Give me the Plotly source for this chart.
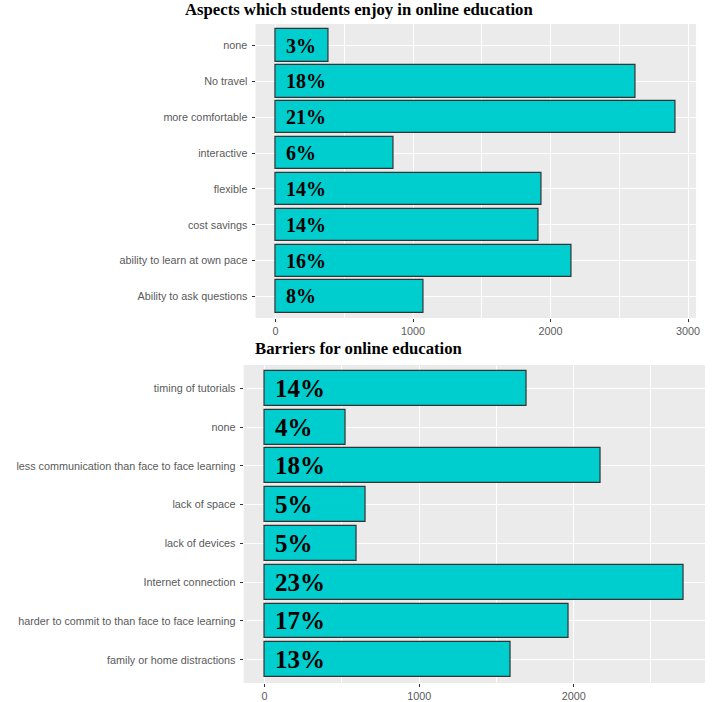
import plotly.graph_objects as go

W, H = 712, 702

# Top chart: aspects enjoyed (bottom-to-top order)
enjoy_cats = ["Ability to ask questions", "ability to learn at own pace", "cost savings",
              "flexible", "interactive", "more comfortable", "No travel", "none"]
enjoy_vals = [1077, 2153, 1912, 1936, 860, 2913, 2617, 384]
enjoy_pct = ["8%", "16%", "14%", "14%", "6%", "21%", "18%", "3%"]

# Bottom chart: barriers (bottom-to-top order)
barrier_cats = ["family or home distractions", "harder to commit to than face to face learning",
                "Internet connection", "lack of devices", "lack of space",
                "less communication than face to face learning", "none", "timing of tutorials"]
barrier_vals = [1595, 1969, 2714, 597, 653, 2175, 527, 1697]
barrier_pct = ["13%", "17%", "23%", "5%", "5%", "18%", "4%", "14%"]

x_ticks_top = [0, 1000, 2000, 3000]
x_ticks_bottom = [0, 1000, 2000]

FILL = "#00CDCD"
EDGE = "#333333"
PANEL = "#EBEBEB"
TICKGREY = "#5A5A5A"


def px_x(p):
    return p / W


def px_y(p):
    return 1 - p / H


fig = go.Figure()

fig.add_trace(go.Bar(
    y=enjoy_cats, x=enjoy_vals, orientation="h", width=0.9,
    marker=dict(color=FILL, line=dict(color=EDGE, width=1.2)),
    xaxis="x", yaxis="y", showlegend=False, hoverinfo="skip"))

fig.add_trace(go.Bar(
    y=barrier_cats, x=barrier_vals, orientation="h", width=0.9,
    marker=dict(color=FILL, line=dict(color=EDGE, width=1.2)),
    xaxis="x2", yaxis="y2", showlegend=False, hoverinfo="skip"))

annotations = []
for c, t in zip(enjoy_cats, enjoy_pct):
    annotations.append(dict(x=max(enjoy_vals) * 0.02, y=c, xref="x", yref="y", text=t,
                            showarrow=False, xanchor="left", yanchor="middle",
                            font=dict(family="Liberation Serif", size=20, color="black", weight="bold")))
for c, t in zip(barrier_cats, barrier_pct):
    annotations.append(dict(x=max(barrier_vals) * 0.02, y=c, xref="x2", yref="y2", text=t,
                            showarrow=False, xanchor="left", yanchor="middle",
                            font=dict(family="Liberation Serif", size=25, color="black", weight="bold")))

annotations.append(dict(x=px_x(361), y=px_y(10), xref="paper", yref="paper",
                        text="<b>Aspects which students enjoy in online education</b>",
                        showarrow=False, xanchor="center", yanchor="middle",
                        font=dict(family="Liberation Serif", size=16.7, color="black")))
annotations.append(dict(x=px_x(361), y=px_y(349), xref="paper", yref="paper",
                        text="<b>Barriers for online education</b>",
                        showarrow=False, xanchor="center", yanchor="middle",
                        font=dict(family="Liberation Serif", size=16.7, color="black")))

tickfont = dict(family="Liberation Sans", size=10.8, color=TICKGREY)


def xaxis(domain, anchor, rmax, ticks):
    return dict(domain=domain, anchor=anchor, range=[-0.05 * rmax, 1.05 * rmax],
                tickvals=ticks, showgrid=True, gridcolor="white", gridwidth=1.2,
                minor=dict(dtick=500, tick0=0, showgrid=True, gridcolor="white", gridwidth=0.5, ticks=""),
                zeroline=False, ticks="outside", ticklen=3, tickcolor=EDGE, tickwidth=1,
                tickfont=tickfont, showline=False, fixedrange=True)


def yaxis(domain, anchor, cats):
    return dict(domain=domain, anchor=anchor, type="category", categoryorder="array",
                categoryarray=cats, range=[-0.6, len(cats) - 0.4],
                showgrid=True, gridcolor="white", gridwidth=1.2, zeroline=False,
                ticks="outside", ticklen=3, tickcolor=EDGE, tickwidth=1,
                tickfont=tickfont, ticklabelstandoff=2, showline=False, fixedrange=True)


fig.update_layout(
    width=W, height=H, margin=dict(l=0, r=0, t=0, b=0),
    paper_bgcolor="white", plot_bgcolor=PANEL, bargap=0,
    xaxis=xaxis([px_x(257), px_x(700)], "y", max(enjoy_vals), x_ticks_top),
    yaxis=yaxis([px_y(318), px_y(24)], "x", enjoy_cats),
    xaxis2=xaxis([px_x(245), px_x(709)], "y2", max(barrier_vals), x_ticks_bottom),
    yaxis2=yaxis([px_y(683), px_y(365)], "x2", barrier_cats),
    annotations=annotations,
)

# Remove the browser's default 8px page margin so the figure fills the window.
fig.write_html("out.html", config={"displayModeBar": False},
               post_script="document.body.style.margin='0px';document.body.style.overflow='hidden';")
